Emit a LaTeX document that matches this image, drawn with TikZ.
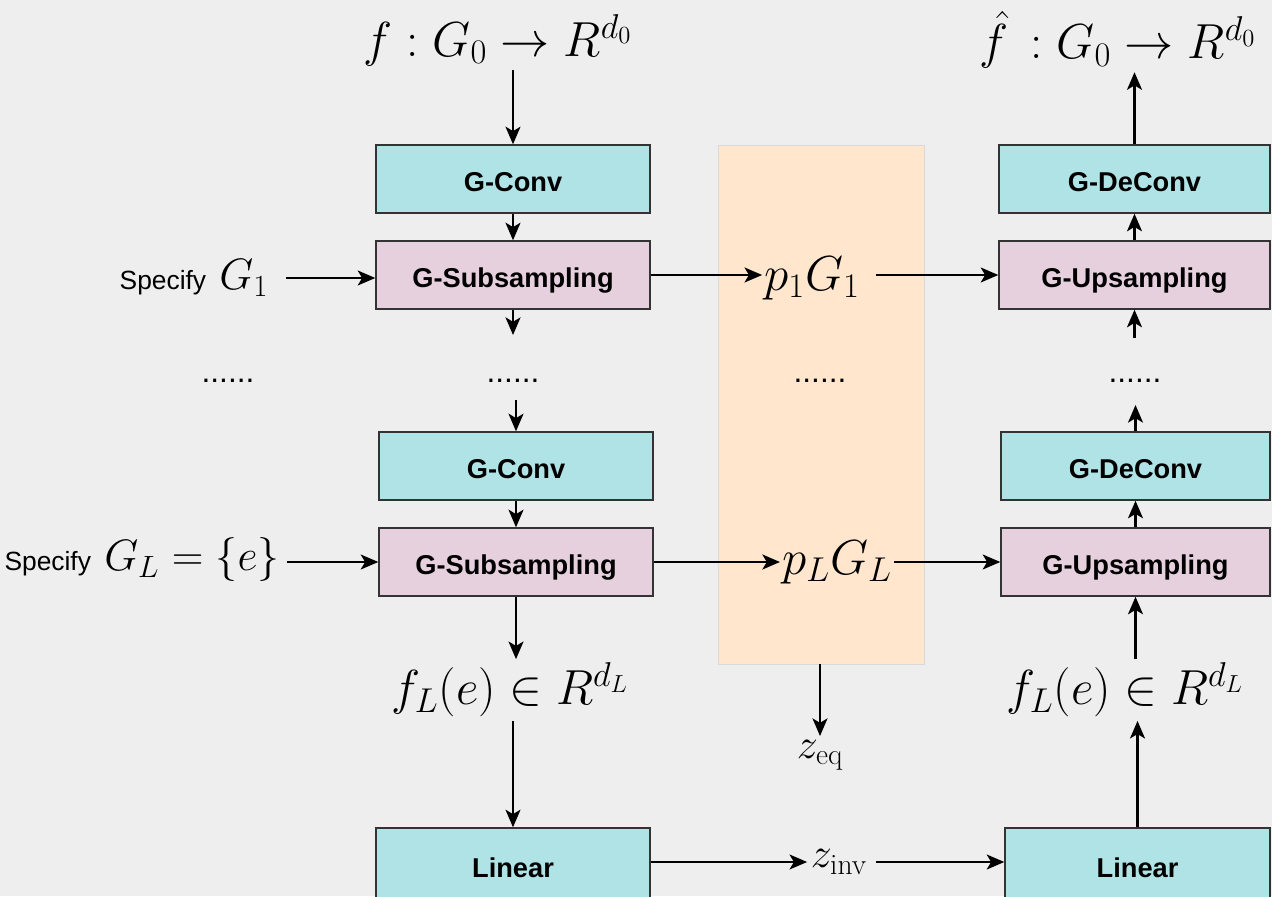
\RequirePackage{fix-cm}
\documentclass[tikz,border=0pt]{standalone}
\usepackage{amsmath, amssymb}
\usepackage{fontspec}
\newfontfamily\boxfont{Liberation Sans}
\usepackage{tikz}
\usetikzlibrary{positioning,arrows.meta}
\usepackage{xcolor}
\definecolor{convcol}{HTML}{B0E3E6}
\definecolor{sampcol}{HTML}{E6D0DE}
\definecolor{latcol}{HTML}{FFE6CC}
\definecolor{bgcol}{HTML}{EEEEEE}

\begin{document}
\begin{tikzpicture}[
          every node/.style={font=\fontsize{28}{32}\selectfont},
          blk/.style={draw=black!80,line width=0.8pt,minimum height=1.36cm,
                      text height=14pt,text depth=0pt,
                      font=\boxfont\bfseries\fontsize{15.5}{18}\selectfont},
          convbox/.style={blk,fill=convcol},
          sampbox/.style={blk,fill=sampcol},
          dotlbl/.style={font=\boxfont\fontsize{18}{20}\selectfont},
          speclbl/.style={font=\fontsize{25}{30}\selectfont,inner sep=2pt},
          zlbl/.style={font=\fontsize{24}{28}\selectfont,inner sep=2pt},
          arr/.style={-{Stealth[length=10pt,width=8.5pt,inset=2.5pt]},line width=1.3pt},
        ]
        \useasboundingbox (0,0) rectangle (25.44,17.92);
        \fill[bgcol] (0,0) rectangle (25.44,17.92);
        % latent band
        \node[draw=black!15,fill=latcol,minimum width=4.12cm,minimum height=10.38cm] (lat) at (16.42,9.83) {};
        % encoder
        \node[inner sep=2pt] (ftop) at (9.96,17.12) {$f : G_0 \rightarrow R^{d_0}$};
        \node[convbox,minimum width=5.48cm] (conv1) at (10.26,14.34) {G-Conv};
        \node[sampbox,minimum width=5.48cm] (sub1)  at (10.26,12.42) {G-Subsampling};
        \node[convbox,minimum width=5.48cm] (conv2) at (10.32,8.60)  {G-Conv};
        \node[sampbox,minimum width=5.48cm] (sub2)  at (10.32,6.68)  {G-Subsampling};
        \node[inner sep=2pt] (fL1) at (10.20,4.12) {$f_L(e) \in R^{d_L}$};
        \node[convbox,minimum width=5.48cm,minimum height=1.48cm] (lin1) at (10.26,0.62) {Linear};
        \node[speclbl] (spec1) at (3.88,12.36) {{\boxfont\fontsize{15}{18}\selectfont Specify} $G_1$};
        \node[speclbl] (specL) at (2.84,6.72) {{\boxfont\fontsize{15}{18}\selectfont Specify} $G_L = \{e\}$};
        % latent
        \node[inner sep=1pt] (p1) at (16.24,12.36) {$p_1 G_1$};
        \node[inner sep=1pt] (pL) at (16.74,6.68) {$p_L G_L$};
        \node[zlbl] (zeq)  at (16.40,2.82) {$z_{\text{eq}}$};
        \node[zlbl] (zinv) at (16.78,0.68) {$z_{\text{inv}}$};
        % decoder
        \node[inner sep=2pt] (fhat) at (22.36,17.12) {$\hat{f}\, : G_0 \rightarrow R^{d_0}$};
        \node[convbox,minimum width=5.42cm] (dec1) at (22.69,14.34) {G-DeConv};
        \node[sampbox,minimum width=5.42cm] (up1)  at (22.69,12.42) {G-Upsampling};
        \node[convbox,minimum width=5.38cm] (dec2) at (22.71,8.60)  {G-DeConv};
        \node[sampbox,minimum width=5.38cm] (up2)  at (22.71,6.68)  {G-Upsampling};
        \node[inner sep=2pt] (fL2) at (22.50,4.12) {$f_L(e) \in R^{d_L}$};
        \node[convbox,minimum width=5.30cm,minimum height=1.48cm] (lin2) at (22.75,0.62) {Linear};
        % dots
        \node[dotlbl] (d1) at (4.56,10.30)  {......};
        \node[dotlbl] (d2) at (10.26,10.30) {......};
        \node[dotlbl] (d3) at (16.40,10.30) {......};
        \node[dotlbl] (d4) at (22.70,10.30) {......};
        \coordinate (c1) at (10.26,11.22);
        \coordinate (c2) at (10.32,9.92);
        \coordinate (c3) at (22.69,11.16);
        \coordinate (c4) at (22.71,9.82);
        % encoder arrows
        \draw[arr] (ftop.south -| conv1.north) -- (conv1.north);
        \draw[arr] (conv1) -- (sub1);
        \draw[arr] (sub1) -- (c1);
        \draw[arr] (c2) -- (conv2);
        \draw[arr] (conv2) -- (sub2);
        \draw[arr] (sub2.south) -- (sub2.south |- fL1.north);
        \draw[arr] (fL1.south -| lin1.north) -- (lin1.north);
        \draw[arr,shorten <=8pt] (spec1.east) -- (spec1.east -| sub1.west);
        \draw[arr,shorten <=2pt] (specL.east |- sub2.west) -- (sub2.west);
        % latent arrows
        \draw[arr] (sub1.east) -- (sub1.east -| p1.west);
        \draw[arr,shorten <=8pt] (p1.east |- up1.west) -- (up1.west);
        \draw[arr] (sub2.east) -- (sub2.east -| pL.west);
        \draw[arr] (pL.east |- up2.west) -- (up2.west);
        \draw[arr] (lat.south -| zeq.north) -- (zeq);
        \draw[arr] (lin1.east |- zinv.west) -- (zinv.west);
        \draw[arr,shorten <=3pt] (zinv.east) -- (zinv.east -| lin2.west);
        % decoder arrows
        \draw[arr] (dec1.north) -- (dec1.north |- fhat.south);
        \draw[arr] (up1) -- (dec1);
        \draw[arr] (c3) -- (up1);
        \draw[arr] (dec2) -- (c4);
        \draw[arr] (up2) -- (dec2);
        \draw[arr] (fL2.north -| up2.south) -- (up2.south);
        \draw[arr] (lin2.north) -- (lin2.north |- fL2.south);
      \end{tikzpicture}
\end{document}
